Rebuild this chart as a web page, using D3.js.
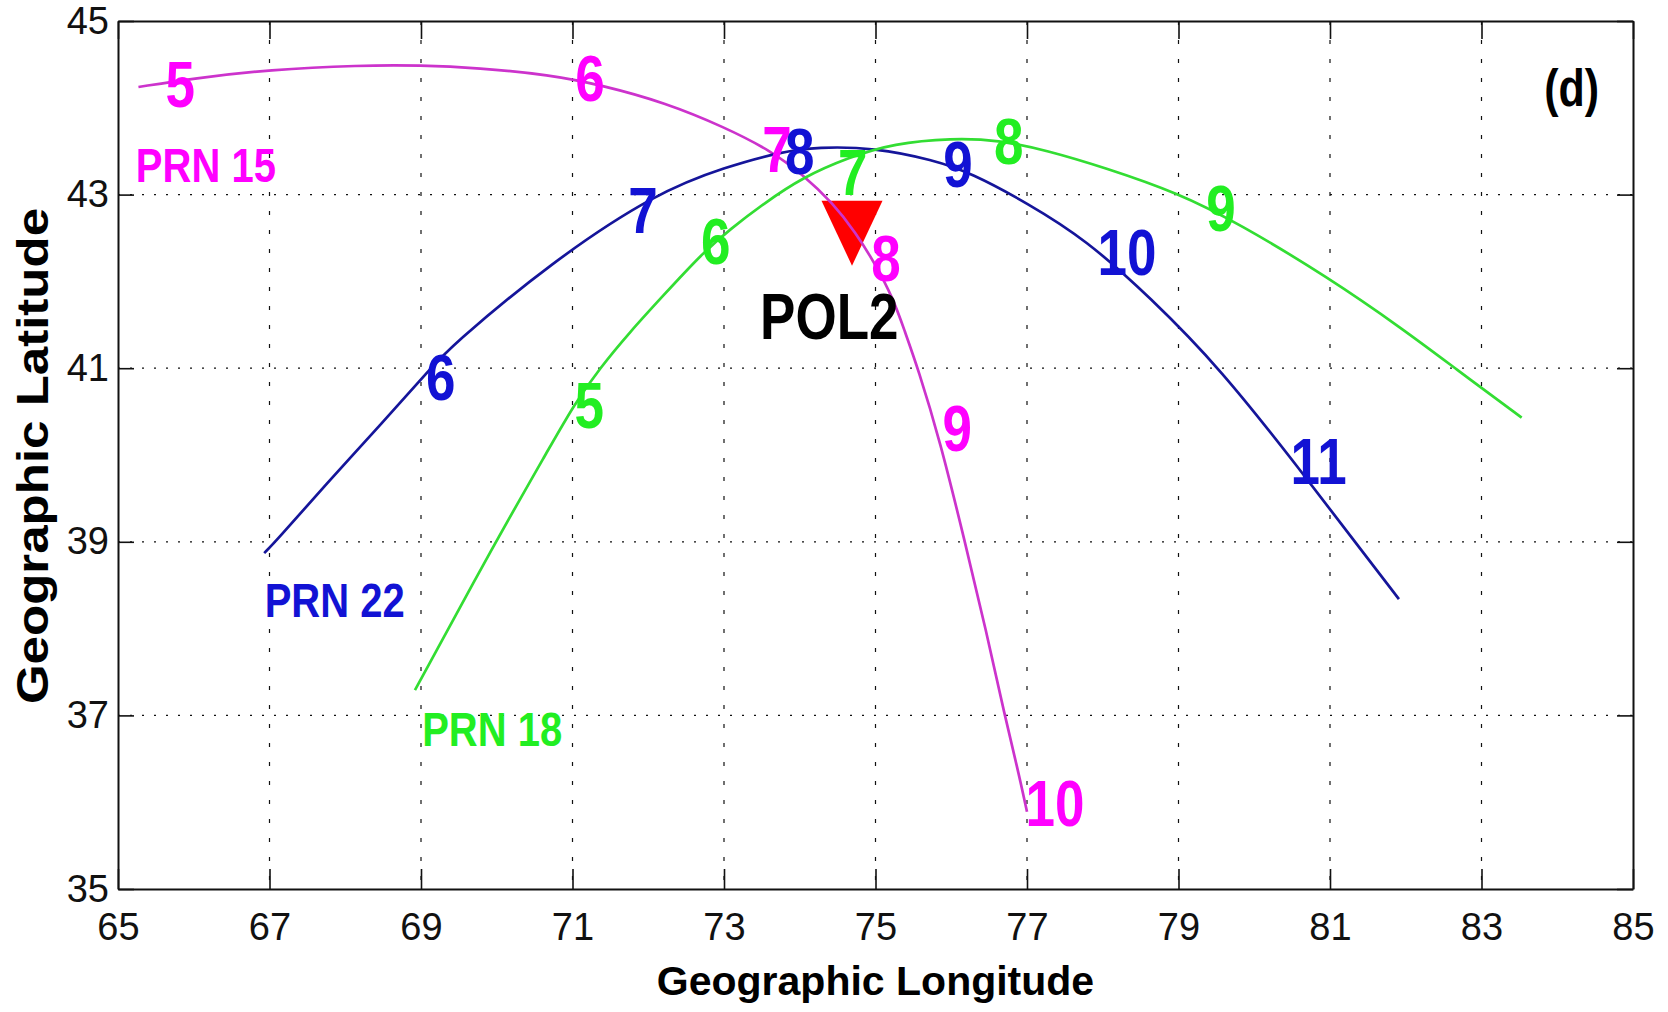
<!DOCTYPE html>
<html>
<head>
<meta charset="utf-8">
<script src="https://cdn.jsdelivr.net/npm/d3@7"></script>
<style>
  html, body { margin: 0; padding: 0; background: #fff; }
  svg { display: block; font-family: "Liberation Sans", Arial, Helvetica, sans-serif; }
</style>
</head>
<body>
<svg id="chart" width="1668" height="1012"></svg>
<script>
// Ionospheric pierce-point tracks of GPS satellites seen from station POL2

// Axis ticks
const lonTicks = [65, 67, 69, 71, 73, 75, 77, 79, 81, 83, 85];
const latTicks = [35, 37, 39, 41, 43, 45];

// PRN 15 track (geographic longitude / latitude)
const prn15Lon = [65.27, 66.0, 67.0, 68.19, 69.0, 69.75, 70.70, 71.39, 72.22, 73.0, 73.63, 74.04, 74.44, 74.74, 74.99, 75.24, 75.38, 75.56, 75.85, 76.18, 76.46, 76.71, 76.87, 77.0];
const prn15Lat = [44.24, 44.34, 44.44, 44.49, 44.49, 44.46, 44.38, 44.26, 44.06, 43.78, 43.50, 43.23, 42.90, 42.56, 42.21, 41.79, 41.44, 41.00, 40.17, 39.00, 37.98, 36.98, 36.41, 35.89];

// PRN 22 track
const prn22Lon = [66.93, 67.09, 67.73, 68.50, 69.11, 69.38, 70.70, 72.12, 73.03, 73.74, 74.24, 74.99, 75.76, 76.26, 77.01, 77.78, 78.62, 79.55, 80.64, 81.32, 81.91];
const prn22Lat = [38.87, 39.01, 39.65, 40.38, 40.98, 41.24, 42.21, 43.03, 43.32, 43.49, 43.55, 43.54, 43.40, 43.25, 42.90, 42.48, 41.82, 41.00, 39.79, 39.01, 38.34];

// PRN 18 track
const prn18Lon = [68.92, 69.99, 70.70, 71.02, 71.36, 71.76, 72.18, 72.72, 73.08, 73.53, 74.04, 74.65, 75.24, 76.01, 76.62, 77.26, 78.03, 78.99, 79.79, 80.97, 81.98, 82.65, 83.53];
const prn18Lat = [37.29, 39.01, 40.09, 40.58, 41.00, 41.42, 41.82, 42.33, 42.60, 42.90, 43.20, 43.43, 43.59, 43.65, 43.63, 43.51, 43.31, 43.02, 42.67, 42.05, 41.44, 41.00, 40.43];

// Hour (UT) annotations along each track
const prn15Hours = ["5", "6", "7", "8", "9", "10"];
const prn15HourLon = [65.82, 71.23, 73.70, 75.14, 76.08, 77.37];
const prn15HourLat = [44.28, 44.34, 43.53, 42.27, 40.31, 35.99];

const prn22Hours = ["6", "7", "8", "9", "10", "11"];
const prn22HourLon = [69.26, 71.93, 74.00, 76.09, 78.32, 80.85];
const prn22HourLat = [40.90, 42.83, 43.50, 43.35, 42.34, 39.93];

const prn18Hours = ["5", "6", "7", "8", "9"];
const prn18HourLon = [71.22, 72.89, 74.70, 76.76, 79.56];
const prn18HourLat = [40.58, 42.47, 43.26, 43.62, 42.85];

// Satellite names and their label anchors
const prnNames = ["PRN 15", "PRN 22", "PRN 18"];
const prnNameLon = [66.16, 67.86, 69.94];
const prnNameLat = [43.35, 38.33, 36.85];

// Station
const stationName = "POL2";
const stationLon = 74.69;
const stationLat = 42.68;
const stationLabelLon = 74.39;
const stationLabelLat = 41.60;

const panelTag = "(d)";
const panelTagLon = 84.19;
const panelTagLat = 44.18;

// ---------------------------------------------------------------
const svg = d3.select("#chart");
const W = 1668, H = 1012;
const plot = { left: 118, right: 1633, top: 21, bottom: 889 };

svg.append("rect").attr("width", W).attr("height", H).attr("fill", "#fff");

const x = d3.scaleLinear().domain([65, 85]).range([plot.left, plot.right]);
const y = d3.scaleLinear().domain([35, 45]).range([plot.bottom, plot.top]);

// Dotted grid
const grid = svg.append("g").attr("stroke", "#111").attr("stroke-width", 1.2);
grid.selectAll("line.v")
  .data(lonTicks.slice(1, -1))
  .join("line")
  .attr("x1", d => x(d)).attr("x2", d => x(d))
  .attr("y1", plot.top).attr("y2", plot.bottom)
  .attr("stroke-dasharray", "4,15");
grid.selectAll("line.h")
  .data(latTicks.slice(1, -1))
  .join("line")
  .attr("x1", plot.left).attr("x2", plot.right)
  .attr("y1", d => y(d)).attr("y2", d => y(d))
  .attr("stroke-dasharray", "2,10");

// Station marker (downward triangle centred on the station)
const triW = 61, triH = 65;
const sx = x(stationLon), sy = y(stationLat);
svg.append("path")
  .attr("d", `M${sx - triW / 2},${sy - triH / 3} L${sx + triW / 2},${sy - triH / 3} L${sx},${sy + 2 * triH / 3} Z`)
  .attr("fill", "#ff0000");

// Satellite tracks (smoothed B-spline through the sampled positions)
const line = d3.line()
  .x(d => x(d[0]))
  .y(d => y(d[1]))
  .curve(d3.curveBasis);

const tracks = [
  { lon: prn15Lon, lat: prn15Lat, stroke: "#cc33cc" },
  { lon: prn22Lon, lat: prn22Lat, stroke: "#15159a" },
  { lon: prn18Lon, lat: prn18Lat, stroke: "#33dd33" }
];
tracks.forEach(t => {
  svg.append("path")
    .datum(d3.zip(t.lon, t.lat))
    .attr("d", line)
    .attr("fill", "none")
    .attr("stroke", t.stroke)
    .attr("stroke-width", 2.7)
    .attr("stroke-linejoin", "round");
});

// Text annotations (stretched vertically like the rest of the figure text)
const STRETCH = 1.22;
function label(text, lon, lat, size, fill, centreEm) {
  const g = svg.append("g")
    .attr("transform", `translate(${x(lon)},${y(lat)}) scale(1,${STRETCH})`);
  g.append("text")
    .attr("text-anchor", "middle")
    .attr("y", centreEm * size)
    .attr("font-size", size)
    .attr("font-weight", "bold")
    .attr("fill", fill)
    .text(text);
}

const hourSets = [
  { hours: prn15Hours, lon: prn15HourLon, lat: prn15HourLat, fill: "#ff00ff" },
  { hours: prn22Hours, lon: prn22HourLon, lat: prn22HourLat, fill: "#1212d4" },
  { hours: prn18Hours, lon: prn18HourLon, lat: prn18HourLat, fill: "#22ee22" }
];
hourSets.forEach(s => {
  s.hours.forEach((h, i) => label(h, s.lon[i], s.lat[i], 53, s.fill, 0.358));
});

prnNames.forEach((n, i) => label(n, prnNameLon[i], prnNameLat[i], 40, hourSets[i].fill, 0.358));

label(stationName, stationLabelLon, stationLabelLat, 53, "#000", 0.358);
label(panelTag, panelTagLon, panelTagLat, 43, "#000", 0.26);

// Axes: box with inward ticks on all four sides
const axisFont = 38;
const xAxisB = d3.axisBottom(x).tickValues(lonTicks).tickSizeInner(-20).tickSizeOuter(0).tickPadding(24).tickFormat(d3.format("d"));
const xAxisT = d3.axisTop(x).tickValues(lonTicks).tickSizeInner(-18).tickSizeOuter(0).tickFormat("");
const yAxisL = d3.axisLeft(y).tickValues(latTicks).tickSizeInner(-16).tickSizeOuter(0).tickPadding(9).tickFormat(d3.format("d"));
const yAxisR = d3.axisRight(y).tickValues(latTicks).tickSizeInner(-16).tickSizeOuter(0).tickFormat("");

function styleAxis(g) {
  g.select(".domain").attr("stroke", "#111").attr("stroke-width", 2);
  g.selectAll(".tick line").attr("stroke", "#111").attr("stroke-width", 1.6);
  g.selectAll(".tick text")
    .attr("font-size", axisFont)
    .attr("font-family", "'Liberation Sans', Arial, sans-serif")
    .attr("fill", "#111");
}

svg.append("g").attr("transform", `translate(0,${plot.bottom})`).call(xAxisB).call(styleAxis);
svg.append("g").attr("transform", `translate(0,${plot.top})`).call(xAxisT).call(styleAxis);
svg.append("g").attr("transform", `translate(${plot.left},0)`).call(yAxisL).call(styleAxis);
svg.append("g").attr("transform", `translate(${plot.right},0)`).call(yAxisR).call(styleAxis);

// Axis titles
svg.append("text")
  .attr("x", (plot.left + plot.right) / 2)
  .attr("y", 995)
  .attr("text-anchor", "middle")
  .attr("font-size", 41)
  .attr("font-weight", "bold")
  .attr("fill", "#000")
  .text("Geographic Longitude");

svg.append("g")
  .attr("transform", `translate(48,456) rotate(-90) scale(1.16,1)`)
  .append("text")
  .attr("text-anchor", "middle")
  .attr("font-size", 44)
  .attr("font-weight", "bold")
  .attr("fill", "#000")
  .text("Geographic Latitude");
</script>
</body>
</html>
